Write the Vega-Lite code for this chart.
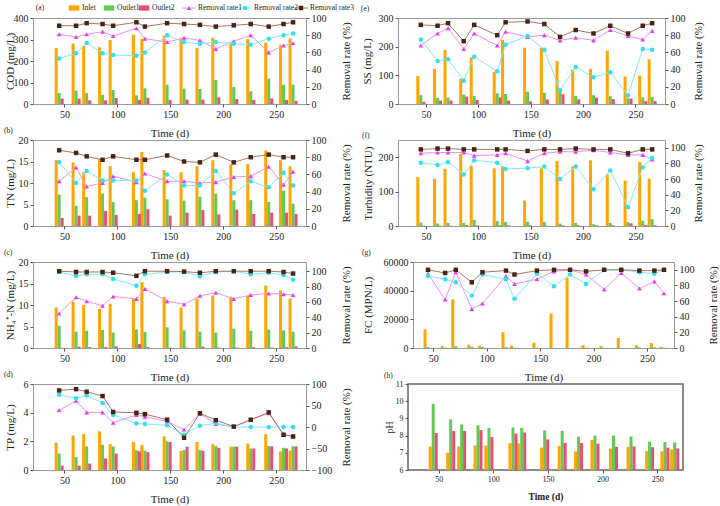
{
  "$schema": "https://vega.github.io/schema/vega-lite/v6.json",
  "padding": {"left": 3, "top": 2, "right": 0, "bottom": 0},
  "config": {
    "font": "Liberation Serif",
    "view": {"stroke": "#9a9a9a", "strokeWidth": 1},
    "axis": {"domain": false, "grid": false, "labelOverlap": false, "labelFont": "Liberation Serif", "titleFont": "Liberation Serif", "labelFontSize": 10, "titleFontSize": 11, "titleFontWeight": "normal", "labelColor": "#222", "titleColor": "#222", "tickColor": "#555", "tickSize": 3, "labelPadding": 2},
    "axisX": {"titlePadding": 8, "titleFontWeight": "normal"},
    "axisBottom": {"titleFontWeight": "normal"},
    "axisLeft": {"titleAngle": 270, "titleBaseline": "middle"},
    "axisRight": {"titleAngle": 270, "titleBaseline": "middle"},
    "title": {"anchor": "start", "frame": "bounds", "fontSize": 7.5, "fontWeight": "normal", "font": "Liberation Serif", "color": "#222", "offset": 1},
    "bar": {"orient": "vertical"}
  },
  "datasets": {
    "cod": [
      {"t": 45, "i": 260, "o1": 51, "o2": 25, "r1": 81, "r2": 53, "r3": 91},
      {"t": 61, "i": 281, "o1": 62, "o2": 25, "r1": 78, "r2": 59, "r3": 91},
      {"t": 71, "i": 271, "o1": 51, "o2": 17, "r1": 81, "r2": 71, "r3": 94},
      {"t": 86, "i": 264, "o1": 43, "o2": 17, "r1": 84, "r2": 59, "r3": 93},
      {"t": 96, "i": 298, "o1": 65, "o2": 28, "r1": 79, "r2": 57, "r3": 91},
      {"t": 118, "i": 322, "o1": 40, "o2": 19, "r1": 88, "r2": 56, "r3": 95},
      {"t": 126, "i": 304, "o1": 73, "o2": 29, "r1": 76, "r2": 60, "r3": 90},
      {"t": 147, "i": 318, "o1": 90, "o2": 19, "r1": 72, "r2": 80, "r3": 94},
      {"t": 163, "i": 302, "o1": 71, "o2": 20, "r1": 77, "r2": 72, "r3": 93},
      {"t": 178, "i": 260, "o1": 70, "o2": 20, "r1": 74, "r2": 70, "r3": 92},
      {"t": 193, "i": 308, "o1": 112, "o2": 31, "r1": 64, "r2": 72, "r3": 90},
      {"t": 210, "i": 287, "o1": 79, "o2": 23, "r1": 73, "r2": 70, "r3": 91.5},
      {"t": 226, "i": 302, "o1": 60, "o2": 19, "r1": 80, "r2": 69, "r3": 93},
      {"t": 243, "i": 285, "o1": 118, "o2": 26, "r1": 60, "r2": 76, "r3": 90},
      {"t": 257, "i": 276, "o1": 90, "o2": 19, "r1": 68, "r2": 80, "r3": 93},
      {"t": 266, "i": 305, "o1": 90, "o2": 15, "r1": 71, "r2": 82, "r3": 95}
    ],
    "tn": [
      {"t": 45, "i": 15.3, "o1": 7.3, "o2": 1.9, "r1": 52, "r2": 74, "r3": 88},
      {"t": 61, "i": 14.8, "o1": 4.7, "o2": 2.4, "r1": 68, "r2": 50, "r3": 85},
      {"t": 71, "i": 12.5, "o1": 6.7, "o2": 2.4, "r1": 46, "r2": 64, "r3": 81},
      {"t": 86, "i": 15.5, "o1": 7.5, "o2": 3.5, "r1": 50, "r2": 53, "r3": 77},
      {"t": 96, "i": 13.9, "o1": 5.6, "o2": 2.6, "r1": 58, "r2": 53, "r3": 81},
      {"t": 118, "i": 12.5, "o1": 6.0, "o2": 2.8, "r1": 51, "r2": 53, "r3": 77},
      {"t": 126, "i": 17.2, "o1": 6.6, "o2": 3.9, "r1": 61, "r2": 41, "r3": 77},
      {"t": 147, "i": 13.0, "o1": 6.2, "o2": 2.4, "r1": 52, "r2": 60, "r3": 82},
      {"t": 163, "i": 12.5, "o1": 5.9, "o2": 3.1, "r1": 52, "r2": 47, "r3": 75},
      {"t": 178, "i": 13.9, "o1": 6.8, "o2": 3.7, "r1": 50, "r2": 47, "r3": 74},
      {"t": 193, "i": 15.3, "o1": 7.5, "o2": 2.7, "r1": 51, "r2": 64, "r3": 83},
      {"t": 210, "i": 14.3, "o1": 6.0, "o2": 3.8, "r1": 57, "r2": 38, "r3": 74},
      {"t": 226, "i": 14.4, "o1": 6.0, "o2": 2.8, "r1": 58, "r2": 52, "r3": 80},
      {"t": 243, "i": 17.6, "o1": 5.6, "o2": 3.1, "r1": 69, "r2": 45, "r3": 83},
      {"t": 257, "i": 15.3, "o1": 8.2, "o2": 3.1, "r1": 48, "r2": 62, "r3": 80},
      {"t": 266, "i": 13.9, "o1": 5.2, "o2": 2.8, "r1": 63, "r2": 47, "r3": 80}
    ],
    "nh4": [
      {"t": 45, "i": 9.4, "o1": 5.2, "o2": 0.05, "r1": 45, "r2": 99, "r3": 100},
      {"t": 61, "i": 10.8, "o1": 3.8, "o2": 0.3, "r1": 66, "r2": 94, "r3": 99},
      {"t": 71, "i": 10.0, "o1": 4.0, "o2": 0.2, "r1": 61, "r2": 96, "r3": 99},
      {"t": 86, "i": 9.1, "o1": 4.2, "o2": 0.2, "r1": 55, "r2": 96, "r3": 99},
      {"t": 96, "i": 10.3, "o1": 3.6, "o2": 0.4, "r1": 67, "r2": 90, "r3": 98},
      {"t": 118, "i": 11.4, "o1": 4.3, "o2": 0.9, "r1": 64, "r2": 81, "r3": 94},
      {"t": 126, "i": 15.3, "o1": 3.7, "o2": 0.2, "r1": 77, "r2": 96, "r3": 100},
      {"t": 147, "i": 11.9, "o1": 4.8, "o2": 0.1, "r1": 61, "r2": 99, "r3": 100},
      {"t": 163, "i": 9.4, "o1": 4.1, "o2": 0.1, "r1": 57, "r2": 99, "r3": 99.5},
      {"t": 178, "i": 11.5, "o1": 3.8, "o2": 0.3, "r1": 68, "r2": 93, "r3": 98},
      {"t": 193, "i": 12.2, "o1": 3.6, "o2": 0.1, "r1": 72, "r2": 99, "r3": 100},
      {"t": 210, "i": 11.9, "o1": 4.5, "o2": 0.1, "r1": 64, "r2": 100, "r3": 100},
      {"t": 226, "i": 12.1, "o1": 4.0, "o2": 0.2, "r1": 69, "r2": 96, "r3": 100},
      {"t": 243, "i": 14.5, "o1": 4.3, "o2": 0.1, "r1": 71, "r2": 98, "r3": 100},
      {"t": 257, "i": 13.4, "o1": 4.1, "o2": 0.2, "r1": 70, "r2": 95, "r3": 99},
      {"t": 266, "i": 11.5, "o1": 3.8, "o2": 0.4, "r1": 69, "r2": 89, "r3": 97}
    ],
    "tp": [
      {"t": 45, "i": 1.9, "o1": 1.15, "o2": 0.3, "r1": 39, "r2": 75, "r3": 85},
      {"t": 61, "i": 2.4, "o1": 0.9, "o2": 0.3, "r1": 61, "r2": 67, "r3": 88},
      {"t": 71, "i": 2.5, "o1": 1.65, "o2": 0.45, "r1": 34, "r2": 73, "r3": 82},
      {"t": 86, "i": 2.7, "o1": 1.75, "o2": 0.8, "r1": 34, "r2": 56, "r3": 72},
      {"t": 96, "i": 1.8, "o1": 1.65, "o2": 1.15, "r1": 10, "r2": 28, "r3": 35},
      {"t": 118, "i": 1.95, "o1": 1.38, "o2": 1.3, "r1": 28, "r2": 8, "r3": 33},
      {"t": 126, "i": 1.75, "o1": 1.35, "o2": 1.25, "r1": 24, "r2": 7, "r3": 30},
      {"t": 147, "i": 2.35, "o1": 2.0, "o2": 1.95, "r1": 13, "r2": 4, "r3": 17},
      {"t": 163, "i": 1.33, "o1": 1.38, "o2": 1.63, "r1": -6, "r2": -18, "r3": -25},
      {"t": 178, "i": 1.95, "o1": 1.38, "o2": 1.35, "r1": 31, "r2": 3, "r3": 32},
      {"t": 193, "i": 1.8, "o1": 1.68, "o2": 1.55, "r1": 7, "r2": 9, "r3": 16},
      {"t": 210, "i": 1.63, "o1": 1.63, "o2": 1.63, "r1": 0, "r2": 0, "r3": 1},
      {"t": 226, "i": 1.85, "o1": 1.5, "o2": 1.5, "r1": 17, "r2": 0, "r3": 17},
      {"t": 243, "i": 2.5, "o1": 1.68, "o2": 1.65, "r1": 32, "r2": 0, "r3": 34},
      {"t": 257, "i": 1.3, "o1": 1.55, "o2": 1.5, "r1": -18, "r2": 0, "r3": -18},
      {"t": 266, "i": 1.35, "o1": 1.65, "o2": 1.65, "r1": -22, "r2": 0, "r3": -22}
    ],
    "ss": [
      {"t": 45, "i": 98, "o1": 31, "o2": 8, "r1": 68, "r2": 75, "r3": 92},
      {"t": 61, "i": 122, "o1": 21, "o2": 12, "r1": 82, "r2": 50, "r3": 91},
      {"t": 71, "i": 189, "o1": 22, "o2": 12, "r1": 88, "r2": 52, "r3": 94},
      {"t": 86, "i": 89, "o1": 33, "o2": 26, "r1": 64, "r2": 27, "r3": 73},
      {"t": 96, "i": 162, "o1": 28, "o2": 14, "r1": 82, "r2": 55, "r3": 92},
      {"t": 118, "i": 112, "o1": 37, "o2": 23, "r1": 68, "r2": 38, "r3": 80},
      {"t": 126, "i": 223, "o1": 35, "o2": 12, "r1": 84, "r2": 69, "r3": 95},
      {"t": 147, "i": 196, "o1": 43, "o2": 9, "r1": 78, "r2": 79, "r3": 96},
      {"t": 163, "i": 196, "o1": 39, "o2": 16, "r1": 80, "r2": 63, "r3": 93},
      {"t": 178, "i": 150, "o1": 41, "o2": 34, "r1": 74, "r2": 16, "r3": 78},
      {"t": 193, "i": 120, "o1": 28, "o2": 16, "r1": 77, "r2": 43, "r3": 86},
      {"t": 210, "i": 122, "o1": 31, "o2": 22, "r1": 74, "r2": 31, "r3": 82},
      {"t": 226, "i": 186, "o1": 27, "o2": 17, "r1": 86, "r2": 37, "r3": 91},
      {"t": 243, "i": 96, "o1": 20, "o2": 19, "r1": 79, "r2": 10, "r3": 82},
      {"t": 257, "i": 99, "o1": 23, "o2": 10, "r1": 75, "r2": 64, "r3": 91},
      {"t": 266, "i": 156, "o1": 24, "o2": 10, "r1": 85, "r2": 63, "r3": 94}
    ],
    "turb": [
      {"t": 45, "i": 142, "o1": 10, "o2": 1, "r1": 93, "r2": 81, "r3": 98},
      {"t": 61, "i": 137, "o1": 7, "o2": 1, "r1": 94, "r2": 78, "r3": 99},
      {"t": 71, "i": 166, "o1": 9, "o2": 1, "r1": 94, "r2": 82, "r3": 99},
      {"t": 86, "i": 210, "o1": 9, "o2": 3, "r1": 94, "r2": 66, "r3": 98},
      {"t": 96, "i": 175, "o1": 18, "o2": 2, "r1": 90, "r2": 84, "r3": 98},
      {"t": 118, "i": 168, "o1": 14, "o2": 2, "r1": 91, "r2": 81, "r3": 98},
      {"t": 126, "i": 173, "o1": 12, "o2": 2, "r1": 93, "r2": 73, "r3": 98},
      {"t": 147, "i": 74, "o1": 12, "o2": 2, "r1": 83, "r2": 74, "r3": 96},
      {"t": 163, "i": 168, "o1": 12, "o2": 1, "r1": 93, "r2": 76, "r3": 98},
      {"t": 178, "i": 189, "o1": 7, "o2": 2, "r1": 95, "r2": 60, "r3": 98},
      {"t": 193, "i": 173, "o1": 9, "o2": 2, "r1": 95, "r2": 76, "r3": 99},
      {"t": 210, "i": 191, "o1": 5, "o2": 2, "r1": 97, "r2": 47, "r3": 98},
      {"t": 226, "i": 150, "o1": 9, "o2": 2, "r1": 94, "r2": 71, "r3": 98},
      {"t": 243, "i": 132, "o1": 11, "o2": 8, "r1": 91, "r2": 24, "r3": 93},
      {"t": 257, "i": 186, "o1": 15, "o2": 3, "r1": 91, "r2": 75, "r3": 98},
      {"t": 266, "i": 138, "o1": 20, "o2": 2, "r1": 85, "r2": 87, "r3": 98}
    ],
    "fc": [
      {"t": 45, "i": 13000, "o1": 700, "o2": 40, "r1": 95, "r2": 92, "r3": 100},
      {"t": 61, "i": 1500, "o1": 300, "o2": 40, "r1": 62, "r2": 88, "r3": 96},
      {"t": 71, "i": 34000, "o1": 1200, "o2": 40, "r1": 97, "r2": 84, "r3": 100},
      {"t": 86, "i": 2300, "o1": 900, "o2": 40, "r1": 50, "r2": 67, "r3": 84},
      {"t": 96, "i": 1500, "o1": 700, "o2": 40, "r1": 57, "r2": 94, "r3": 97},
      {"t": 118, "i": 11000, "o1": 600, "o2": 40, "r1": 92, "r2": 88, "r3": 99},
      {"t": 126, "i": 1700, "o1": 200, "o2": 40, "r1": 82, "r2": 63, "r3": 94},
      {"t": 147, "i": 3800, "o1": 200, "o2": 40, "r1": 88, "r2": 95, "r3": 99},
      {"t": 163, "i": 24000, "o1": 100, "o2": 40, "r1": 98, "r2": 79, "r3": 100},
      {"t": 178, "i": 49000, "o1": 100, "o2": 40, "r1": 100, "r2": 94, "r3": 100},
      {"t": 193, "i": 2000, "o1": 200, "o2": 40, "r1": 94, "r2": 82, "r3": 98},
      {"t": 210, "i": 1300, "o1": 50, "o2": 40, "r1": 75, "r2": 100, "r3": 100},
      {"t": 226, "i": 7000, "o1": 100, "o2": 40, "r1": 96, "r2": 100, "r3": 100},
      {"t": 243, "i": 2000, "o1": 400, "o2": 40, "r1": 76, "r2": 97, "r3": 99},
      {"t": 257, "i": 3500, "o1": 500, "o2": 40, "r1": 85, "r2": 95, "r3": 99},
      {"t": 266, "i": 800, "o1": 200, "o2": 40, "r1": 70, "r2": 100, "r3": 100}
    ],
    "ph": [
      {"t": 45, "i": 7.37, "o1": 9.85, "o2": 8.15},
      {"t": 61, "i": 7.0, "o1": 8.95, "o2": 8.27},
      {"t": 71, "i": 7.37, "o1": 8.65, "o2": 8.28},
      {"t": 86, "i": 7.43, "o1": 8.6, "o2": 8.32},
      {"t": 96, "i": 7.42, "o1": 8.45, "o2": 7.92},
      {"t": 118, "i": 7.57, "o1": 8.47, "o2": 8.12},
      {"t": 126, "i": 7.55, "o1": 8.45, "o2": 8.18},
      {"t": 147, "i": 7.3, "o1": 8.3, "o2": 7.78},
      {"t": 163, "i": 7.4, "o1": 8.28, "o2": 7.58},
      {"t": 178, "i": 7.08, "o1": 7.93, "o2": 7.57},
      {"t": 193, "i": 7.75, "o1": 8.0, "o2": 7.53},
      {"t": 210, "i": 7.25, "o1": 8.0, "o2": 7.35},
      {"t": 226, "i": 7.35, "o1": 7.95, "o2": 7.37},
      {"t": 243, "i": 7.1, "o1": 7.65, "o2": 7.33},
      {"t": 257, "i": 7.08, "o1": 7.62, "o2": 7.3},
      {"t": 266, "i": 7.2, "o1": 7.6, "o2": 7.25}
    ]
  },
  "vconcat": [
    {
      "vconcat": [
        {
          "hconcat": [
            {
              "width": 14, "height": 12, "view": {"stroke": null},
              "data": {"values": [{"p": "(a)"}]},
              "mark": {"type": "text", "fontSize": 7.5, "color": "#222", "baseline": "middle"},
              "encoding": {"text": {"field": "p"}}
            },
            {
              "width": 120, "height": 12, "view": {"stroke": null},
              "data": {"values": [{"k": "Inlet"}, {"k": "Outlet1"}, {"k": "Outlet2"}]},
              "encoding": {"x": {"field": "k", "type": "nominal", "sort": null, "scale": {"type": "point", "range": [27, 97], "padding": 0}, "axis": null}},
              "layer": [
                {"mark": {"type": "point", "shape": "M-1,-0.5H1V0.5H-1Z", "filled": true, "size": 110, "opacity": 1},
                 "encoding": {"color": {"field": "k", "type": "nominal", "scale": {"domain": ["Inlet", "Outlet1", "Outlet2"], "range": ["#FFA500", "#62C954", "#E94F74"]}, "legend": null}}},
                {"mark": {"type": "text", "align": "left", "dx": 8, "fontSize": 7.5, "color": "#222", "baseline": "middle"},
                 "encoding": {"text": {"field": "k"}}}
              ]
            },
            {
              "width": 176, "height": 12, "view": {"stroke": null},
              "data": {"values": [{"k": "Removal rate1"}, {"k": "Removal rate2"}, {"k": "Removal rate3"}]},
              "encoding": {"x": {"field": "k", "type": "nominal", "sort": null, "scale": {"type": "point", "range": [14, 126], "padding": 0}, "axis": null}},
              "layer": [
                {"mark": {"type": "point", "shape": "M-1,0H1", "filled": false, "size": 200, "strokeWidth": 1, "opacity": 1},
                 "encoding": {"stroke": {"field": "k", "type": "nominal", "scale": {"domain": ["Removal rate1", "Removal rate2", "Removal rate3"], "range": ["#EE90F0", "#80EBF2", "#9A7A6E"]}, "legend": null}}},
                {"mark": {"type": "point", "filled": true, "size": 20, "strokeWidth": 0, "opacity": 1},
                 "encoding": {
                   "fill": {"field": "k", "type": "nominal", "scale": {"domain": ["Removal rate1", "Removal rate2", "Removal rate3"], "range": ["#E23DEB", "#2EE0F0", "#4A2212"]}, "legend": null},
                   "shape": {"field": "k", "type": "nominal", "scale": {"domain": ["Removal rate1", "Removal rate2", "Removal rate3"], "range": ["triangle-up", "circle", "square"]}, "legend": null}}},
                {"mark": {"type": "text", "align": "left", "dx": 9, "fontSize": 7.5, "color": "#222", "baseline": "middle"},
                 "encoding": {"text": {"field": "k"}}}
              ]
            }
          ],
          "spacing": 0
        },
        {
          "hconcat": [
            {
              "width": 273, "height": 86,
              "data": {"name": "cod"},
              "encoding": {"x": {"field": "t", "type": "quantitative", "scale": {"domain": [25, 273.5], "nice": false, "zero": false}, "axis": {"values": [50, 100, 150, 200, 250], "tickCount": 12, "format": "d", "title": "Time (d)"}}},
              "layer": [
                {"layer": [
                  {"mark": {"type": "bar", "size": 3, "xOffset": -3, "color": "#FFA500"}, "encoding": {"y": {"field": "i", "type": "quantitative", "scale": {"domain": [0, 400], "nice": false}, "axis": {"title": "COD (mg/L)", "values": [0, 100, 200, 300, 400], "tickCount": 12, "format": "d", "titleX": -23}}}},
                  {"mark": {"type": "bar", "size": 3, "color": "#62C954"}, "encoding": {"y": {"field": "o1", "type": "quantitative", "axis": {"title": "COD (mg/L)"}}}},
                  {"mark": {"type": "bar", "size": 3, "xOffset": 3, "color": "#E94F74"}, "encoding": {"y": {"field": "o2", "type": "quantitative", "axis": {"title": "COD (mg/L)"}}}}
                ]},
                {"layer": [
                  {"mark": {"type": "line", "color": "#EE90F0", "strokeWidth": 1, "point": {"shape": "triangle-up", "filled": true, "size": 22, "color": "#E23DEB"}}, "encoding": {"y": {"field": "r1", "type": "quantitative", "scale": {"domain": [0, 100], "nice": false}, "axis": {"orient": "right", "title": "Removal rate (%)", "values": [0, 20, 40, 60, 80, 100], "tickCount": 12, "format": "d", "titleX": 40}}}},
                  {"mark": {"type": "line", "color": "#80EBF2", "strokeWidth": 1, "point": {"shape": "circle", "filled": true, "size": 20, "color": "#2EE0F0"}}, "encoding": {"y": {"field": "r2", "type": "quantitative", "axis": {"orient": "right", "title": "Removal rate (%)"}}}},
                  {"mark": {"type": "line", "color": "#9A7A6E", "strokeWidth": 1, "point": {"shape": "square", "filled": true, "size": 20, "color": "#4A2212"}}, "encoding": {"y": {"field": "r3", "type": "quantitative", "axis": {"orient": "right", "title": "Removal rate (%)"}}}}
                ]}
              ],
              "resolve": {"scale": {"y": "independent"}}
            },
            {
              "width": 267, "height": 86,
              "title": {"text": "(e)"},
              "data": {"name": "ss"},
              "encoding": {"x": {"field": "t", "type": "quantitative", "scale": {"domain": [28, 273.5], "nice": false, "zero": false}, "axis": {"values": [50, 100, 150, 200, 250], "tickCount": 12, "format": "d", "title": "Time (d)"}}},
              "layer": [
                {"layer": [
                  {"mark": {"type": "bar", "size": 3, "xOffset": -3, "color": "#FFA500"}, "encoding": {"y": {"field": "i", "type": "quantitative", "scale": {"domain": [0, 300], "nice": false}, "axis": {"title": "SS (mg/L)", "values": [0, 100, 200, 300], "tickCount": 12, "format": "d", "titleX": -31}}}},
                  {"mark": {"type": "bar", "size": 3, "color": "#62C954"}, "encoding": {"y": {"field": "o1", "type": "quantitative", "axis": {"title": "SS (mg/L)"}}}},
                  {"mark": {"type": "bar", "size": 3, "xOffset": 3, "color": "#E94F74"}, "encoding": {"y": {"field": "o2", "type": "quantitative", "axis": {"title": "SS (mg/L)"}}}}
                ]},
                {"layer": [
                  {"mark": {"type": "line", "color": "#EE90F0", "strokeWidth": 1, "point": {"shape": "triangle-up", "filled": true, "size": 22, "color": "#E23DEB"}}, "encoding": {"y": {"field": "r1", "type": "quantitative", "scale": {"domain": [0, 100], "nice": false}, "axis": {"orient": "right", "title": "Removal rate (%)", "values": [0, 20, 40, 60, 80, 100], "tickCount": 12, "format": "d", "titleX": 33}}}},
                  {"mark": {"type": "line", "color": "#80EBF2", "strokeWidth": 1, "point": {"shape": "circle", "filled": true, "size": 20, "color": "#2EE0F0"}}, "encoding": {"y": {"field": "r2", "type": "quantitative", "axis": {"orient": "right", "title": "Removal rate (%)"}}}},
                  {"mark": {"type": "line", "color": "#9A7A6E", "strokeWidth": 1, "point": {"shape": "square", "filled": true, "size": 20, "color": "#4A2212"}}, "encoding": {"y": {"field": "r3", "type": "quantitative", "axis": {"orient": "right", "title": "Removal rate (%)"}}}}
                ]}
              ],
              "resolve": {"scale": {"y": "independent"}}
            }
          ],
          "spacing": 8
        }
      ],
      "spacing": -10
    },
    {
      "hconcat": [
        {
          "width": 273, "height": 86,
          "title": {"text": "(b)"},
          "data": {"name": "tn"},
          "encoding": {"x": {"field": "t", "type": "quantitative", "scale": {"domain": [25, 273.5], "nice": false, "zero": false}, "axis": {"values": [50, 100, 150, 200, 250], "tickCount": 12, "format": "d", "title": "Time (d)"}}},
          "layer": [
            {"layer": [
              {"mark": {"type": "bar", "size": 3, "xOffset": -3, "color": "#FFA500"}, "encoding": {"y": {"field": "i", "type": "quantitative", "scale": {"domain": [0, 20], "nice": false}, "axis": {"title": "TN (mg/L)", "values": [0, 5, 10, 15, 20], "tickCount": 12, "format": "d", "titleX": -23}}}},
              {"mark": {"type": "bar", "size": 3, "color": "#62C954"}, "encoding": {"y": {"field": "o1", "type": "quantitative", "axis": {"title": "TN (mg/L)"}}}},
              {"mark": {"type": "bar", "size": 3, "xOffset": 3, "color": "#E94F74"}, "encoding": {"y": {"field": "o2", "type": "quantitative", "axis": {"title": "TN (mg/L)"}}}}
            ]},
            {"layer": [
              {"mark": {"type": "line", "color": "#EE90F0", "strokeWidth": 1, "point": {"shape": "triangle-up", "filled": true, "size": 22, "color": "#E23DEB"}}, "encoding": {"y": {"field": "r1", "type": "quantitative", "scale": {"domain": [0, 100], "nice": false}, "axis": {"orient": "right", "title": "Removal rate (%)", "values": [0, 20, 40, 60, 80, 100], "tickCount": 12, "format": "d", "titleX": 40}}}},
              {"mark": {"type": "line", "color": "#80EBF2", "strokeWidth": 1, "point": {"shape": "circle", "filled": true, "size": 20, "color": "#2EE0F0"}}, "encoding": {"y": {"field": "r2", "type": "quantitative", "axis": {"orient": "right", "title": "Removal rate (%)"}}}},
              {"mark": {"type": "line", "color": "#9A7A6E", "strokeWidth": 1, "point": {"shape": "square", "filled": true, "size": 20, "color": "#4A2212"}}, "encoding": {"y": {"field": "r3", "type": "quantitative", "axis": {"orient": "right", "title": "Removal rate (%)"}}}}
            ]}
          ],
          "resolve": {"scale": {"y": "independent"}}
        },
        {
          "width": 267, "height": 86,
          "title": {"text": "(f)"},
          "data": {"name": "turb"},
          "encoding": {"x": {"field": "t", "type": "quantitative", "scale": {"domain": [28, 273.5], "nice": false, "zero": false}, "axis": {"values": [50, 100, 150, 200, 250], "tickCount": 12, "format": "d", "title": "Time (d)"}}},
          "layer": [
            {"layer": [
              {"mark": {"type": "bar", "size": 3, "xOffset": -3, "color": "#FFA500"}, "encoding": {"y": {"field": "i", "type": "quantitative", "scale": {"domain": [0, 250], "nice": false}, "axis": {"title": "Turbidity (NTU)", "values": [0, 100, 200], "tickCount": 12, "format": "d", "titleX": -30}}}},
              {"mark": {"type": "bar", "size": 3, "color": "#62C954"}, "encoding": {"y": {"field": "o1", "type": "quantitative", "axis": {"title": "Turbidity (NTU)"}}}},
              {"mark": {"type": "bar", "size": 3, "xOffset": 3, "color": "#E94F74"}, "encoding": {"y": {"field": "o2", "type": "quantitative", "axis": {"title": "Turbidity (NTU)"}}}}
            ]},
            {"layer": [
              {"mark": {"type": "line", "color": "#EE90F0", "strokeWidth": 1, "point": {"shape": "triangle-up", "filled": true, "size": 22, "color": "#E23DEB"}}, "encoding": {"y": {"field": "r1", "type": "quantitative", "scale": {"domain": [0, 110], "nice": false}, "axis": {"orient": "right", "title": "Removal rate (%)", "values": [0, 20, 40, 60, 80, 100], "tickCount": 12, "format": "d", "titleX": 33}}}},
              {"mark": {"type": "line", "color": "#80EBF2", "strokeWidth": 1, "point": {"shape": "circle", "filled": true, "size": 20, "color": "#2EE0F0"}}, "encoding": {"y": {"field": "r2", "type": "quantitative", "axis": {"orient": "right", "title": "Removal rate (%)"}}}},
              {"mark": {"type": "line", "color": "#9A7A6E", "strokeWidth": 1, "point": {"shape": "square", "filled": true, "size": 20, "color": "#4A2212"}}, "encoding": {"y": {"field": "r3", "type": "quantitative", "axis": {"orient": "right", "title": "Removal rate (%)"}}}}
            ]}
          ],
          "resolve": {"scale": {"y": "independent"}}
        }
      ],
      "spacing": 9
    },
    {
      "hconcat": [
        {
          "width": 273, "height": 86,
          "title": {"text": "(c)"},
          "data": {"name": "nh4"},
          "encoding": {"x": {"field": "t", "type": "quantitative", "scale": {"domain": [25, 273.5], "nice": false, "zero": false}, "axis": {"values": [50, 100, 150, 200, 250], "tickCount": 12, "format": "d", "title": "Time (d)"}}},
          "layer": [
            {"layer": [
              {"mark": {"type": "bar", "size": 3, "xOffset": -3, "color": "#FFA500"}, "encoding": {"y": {"field": "i", "type": "quantitative", "scale": {"domain": [0, 20], "nice": false}, "axis": {"title": "NH₄⁺-N (mg/L)", "values": [0, 5, 10, 15, 20], "tickCount": 12, "format": "d", "titleX": -23}}}},
              {"mark": {"type": "bar", "size": 3, "color": "#62C954"}, "encoding": {"y": {"field": "o1", "type": "quantitative", "axis": {"title": "NH₄⁺-N (mg/L)"}}}},
              {"mark": {"type": "bar", "size": 3, "xOffset": 3, "color": "#E94F74"}, "encoding": {"y": {"field": "o2", "type": "quantitative", "axis": {"title": "NH₄⁺-N (mg/L)"}}}}
            ]},
            {"layer": [
              {"mark": {"type": "line", "color": "#EE90F0", "strokeWidth": 1, "point": {"shape": "triangle-up", "filled": true, "size": 22, "color": "#E23DEB"}}, "encoding": {"y": {"field": "r1", "type": "quantitative", "scale": {"domain": [0, 112], "nice": false}, "axis": {"orient": "right", "title": "Removal rate (%)", "values": [0, 20, 40, 60, 80, 100], "tickCount": 12, "format": "d", "titleX": 40}}}},
              {"mark": {"type": "line", "color": "#80EBF2", "strokeWidth": 1, "point": {"shape": "circle", "filled": true, "size": 20, "color": "#2EE0F0"}}, "encoding": {"y": {"field": "r2", "type": "quantitative", "axis": {"orient": "right", "title": "Removal rate (%)"}}}},
              {"mark": {"type": "line", "color": "#9A7A6E", "strokeWidth": 1, "point": {"shape": "square", "filled": true, "size": 20, "color": "#4A2212"}}, "encoding": {"y": {"field": "r3", "type": "quantitative", "axis": {"orient": "right", "title": "Removal rate (%)"}}}}
            ]}
          ],
          "resolve": {"scale": {"y": "independent"}}
        },
        {
          "width": 261, "height": 86,
          "title": {"text": "(g)"},
          "data": {"name": "fc"},
          "encoding": {"x": {"field": "t", "type": "quantitative", "scale": {"domain": [35.6, 270.7], "nice": false, "zero": false}, "axis": {"values": [50, 100, 150, 200, 250], "tickCount": 12, "format": "d", "title": "Time (d)"}}},
          "layer": [
            {"layer": [
              {"mark": {"type": "bar", "size": 3, "xOffset": -3, "color": "#FFA500"}, "encoding": {"y": {"field": "i", "type": "quantitative", "scale": {"domain": [0, 60000], "nice": false}, "axis": {"title": "FC (MPN/L)", "values": [0, 20000, 40000, 60000], "tickCount": 12, "format": "d", "titleX": -45}}}},
              {"mark": {"type": "bar", "size": 3, "color": "#62C954"}, "encoding": {"y": {"field": "o1", "type": "quantitative", "axis": {"title": "FC (MPN/L)"}}}},
              {"mark": {"type": "bar", "size": 3, "xOffset": 3, "color": "#E94F74"}, "encoding": {"y": {"field": "o2", "type": "quantitative", "axis": {"title": "FC (MPN/L)"}}}}
            ]},
            {"layer": [
              {"mark": {"type": "line", "color": "#EE90F0", "strokeWidth": 1, "point": {"shape": "triangle-up", "filled": true, "size": 22, "color": "#E23DEB"}}, "encoding": {"y": {"field": "r1", "type": "quantitative", "scale": {"domain": [0, 110], "nice": false}, "axis": {"orient": "right", "title": "Removal rate (%)", "values": [0, 20, 40, 60, 80, 100], "tickCount": 12, "format": "d", "titleX": 39}}}},
              {"mark": {"type": "line", "color": "#80EBF2", "strokeWidth": 1, "point": {"shape": "circle", "filled": true, "size": 20, "color": "#2EE0F0"}}, "encoding": {"y": {"field": "r2", "type": "quantitative", "axis": {"orient": "right", "title": "Removal rate (%)"}}}},
              {"mark": {"type": "line", "color": "#9A7A6E", "strokeWidth": 1, "point": {"shape": "square", "filled": true, "size": 20, "color": "#4A2212"}}, "encoding": {"y": {"field": "r3", "type": "quantitative", "axis": {"orient": "right", "title": "Removal rate (%)"}}}}
            ]}
          ],
          "resolve": {"scale": {"y": "independent"}}
        }
      ],
      "spacing": 9
    },
    {
      "hconcat": [
        {
          "width": 273, "height": 86,
          "title": {"text": "(d)"},
          "data": {"name": "tp"},
          "encoding": {"x": {"field": "t", "type": "quantitative", "scale": {"domain": [25, 273.5], "nice": false, "zero": false}, "axis": {"values": [50, 100, 150, 200, 250], "tickCount": 12, "format": "d", "title": "Time (d)"}}},
          "layer": [
            {"layer": [
              {"mark": {"type": "bar", "size": 3, "xOffset": -3, "color": "#FFA500"}, "encoding": {"y": {"field": "i", "type": "quantitative", "scale": {"domain": [0, 6], "nice": false}, "axis": {"title": "TP (mg/L)", "values": [0, 2, 4, 6], "tickCount": 12, "format": "d", "titleX": -23}}}},
              {"mark": {"type": "bar", "size": 3, "color": "#62C954"}, "encoding": {"y": {"field": "o1", "type": "quantitative", "axis": {"title": "TP (mg/L)"}}}},
              {"mark": {"type": "bar", "size": 3, "xOffset": 3, "color": "#E94F74"}, "encoding": {"y": {"field": "o2", "type": "quantitative", "axis": {"title": "TP (mg/L)"}}}}
            ]},
            {"layer": [
              {"mark": {"type": "line", "color": "#EE90F0", "strokeWidth": 1, "point": {"shape": "triangle-up", "filled": true, "size": 22, "color": "#E23DEB"}}, "encoding": {"y": {"field": "r1", "type": "quantitative", "scale": {"domain": [-100, 100], "nice": false}, "axis": {"orient": "right", "title": "Removal rate (%)", "values": [-100, -50, 0, 50, 100], "tickCount": 12, "format": "d", "titleX": 40}}}},
              {"mark": {"type": "line", "color": "#80EBF2", "strokeWidth": 1, "point": {"shape": "circle", "filled": true, "size": 20, "color": "#2EE0F0"}}, "encoding": {"y": {"field": "r2", "type": "quantitative", "axis": {"orient": "right", "title": "Removal rate (%)"}}}},
              {"mark": {"type": "line", "color": "#9A7A6E", "strokeWidth": 1, "point": {"shape": "square", "filled": true, "size": 20, "color": "#4A2212"}}, "encoding": {"y": {"field": "r3", "type": "quantitative", "axis": {"orient": "right", "title": "Removal rate (%)"}}}}
            ]}
          ],
          "resolve": {"scale": {"y": "independent"}}
        },
        {
          "width": 275, "height": 86,
          "title": {"text": "(h)"},
          "view": {"stroke": "#666", "strokeWidth": 1.5},
          "data": {"name": "ph"},
          "encoding": {"x": {"field": "t", "type": "quantitative", "scale": {"domain": [26.5, 269], "nice": false, "zero": false}, "axis": {"values": [50, 100, 150, 200, 250], "tickCount": 12, "format": "d", "title": "Time (d)", "labelFontSize": 8, "titleFontSize": 9.5, "titleFontWeight": "bold"}}},
          "layer": [
            {"mark": {"type": "bar", "size": 3, "xOffset": -3, "color": "#FFA500"}, "encoding": {"y": {"field": "i", "type": "quantitative", "scale": {"domain": [6, 11], "nice": false, "zero": false}, "axis": {"title": "pH", "values": [6, 7, 8, 9, 10, 11], "tickCount": 12, "format": "d", "labelFontSize": 8, "titleFontSize": 10, "titleX": -19}}, "y2": {"datum": 6}}},
            {"mark": {"type": "bar", "size": 3, "color": "#62C954"}, "encoding": {"y": {"field": "o1", "type": "quantitative", "axis": {"title": "pH"}}, "y2": {"datum": 6}}},
            {"mark": {"type": "bar", "size": 3, "xOffset": 3, "color": "#E94F74"}, "encoding": {"y": {"field": "o2", "type": "quantitative", "axis": {"title": "pH"}}, "y2": {"datum": 6}}}
          ]
        }
      ],
      "spacing": 31
    }
  ],
  "spacing": -13
}
